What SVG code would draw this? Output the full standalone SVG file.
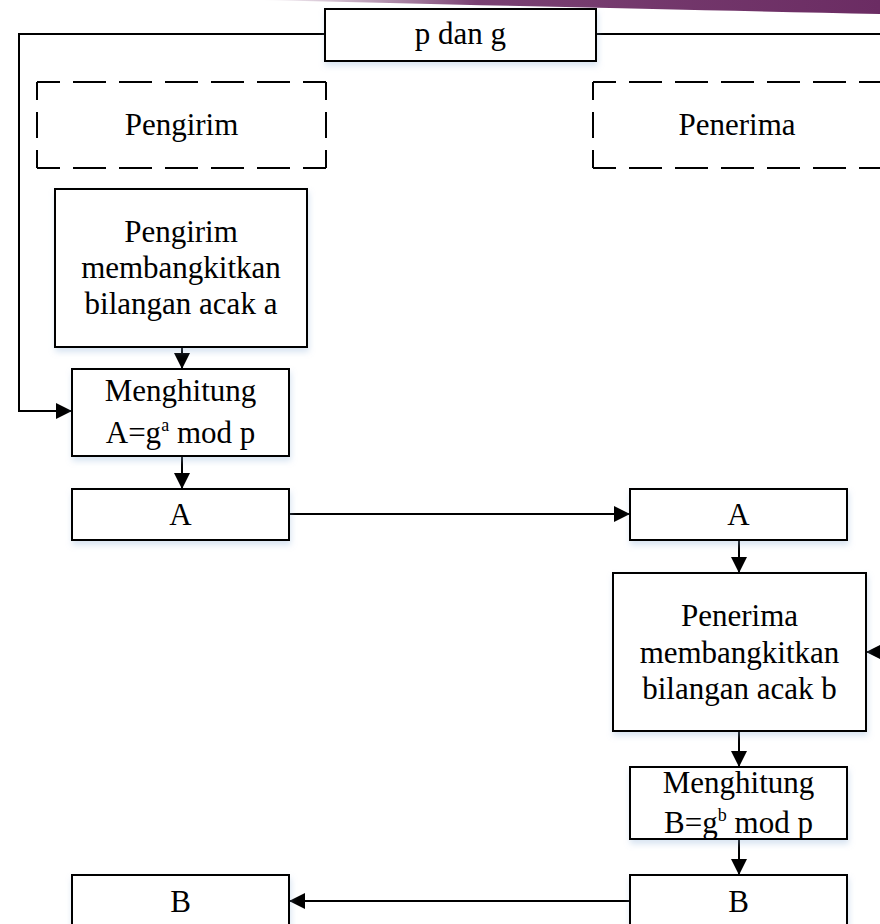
<svg xmlns="http://www.w3.org/2000/svg" width="880" height="924" viewBox="0 0 880 924">
<defs>
<linearGradient id="band" x1="260" y1="0" x2="880" y2="0" gradientUnits="userSpaceOnUse">
<stop offset="0" stop-color="#6b2c63" stop-opacity="0"/>
<stop offset="0.35" stop-color="#6b2c63" stop-opacity="0.9"/>
<stop offset="1" stop-color="#6b2c63"/>
</linearGradient>
<filter id="sh" x="-10%" y="-10%" width="120%" height="140%">
<feDropShadow dx="1" dy="4" stdDeviation="3" flood-color="#8fb0d8" flood-opacity="0.35"/>
</filter>
<marker id="arr" markerUnits="userSpaceOnUse" markerWidth="16" markerHeight="16" refX="16" refY="8" orient="auto">
<path d="M0,0 L16,8 L0,16 Z" fill="#000"/>
</marker>
</defs>
<style>
.box{fill:#fff;stroke:#000;stroke-width:2;filter:url(#sh)}
.dash{fill:none;stroke:#000;stroke-width:2}
.t{font-size:31px;fill:#000;text-anchor:middle}
.c{fill:none;stroke:#000;stroke-width:2}
</style>
<rect width="880" height="924" fill="#fff"/>
<path d="M260,0 L880,0 L880,14 Q640,9 260,0 Z" fill="url(#band)"/>

<g id="connectors">
<polyline class="c" points="325,34 19,34 19,411 72,411" marker-end="url(#arr)"/>
<line class="c" x1="596" y1="34" x2="882" y2="34"/>
<line class="c" x1="182" y1="347" x2="182" y2="369" marker-end="url(#arr)"/>
<line class="c" x1="182" y1="456" x2="182" y2="489" marker-end="url(#arr)"/>
<line class="c" x1="289" y1="514" x2="630" y2="514" marker-end="url(#arr)"/>
<line class="c" x1="739" y1="540" x2="739" y2="573" marker-end="url(#arr)"/>
<line class="c" x1="884" y1="652" x2="866" y2="652" marker-end="url(#arr)"/>
<line class="c" x1="739" y1="731" x2="739" y2="767" marker-end="url(#arr)"/>
<line class="c" x1="739" y1="839" x2="739" y2="875" marker-end="url(#arr)"/>
<line class="c" x1="630" y1="901" x2="289" y2="901" marker-end="url(#arr)"/>
</g>

<g font-family="Liberation Serif, Times New Roman, serif">
<g id="pdang">
<rect class="box" x="325" y="9" width="271" height="52"/>
<text class="t" x="460.5" y="44">p dan g</text>
</g>

<g id="pengirim-label">
<path class="dash" d="M37,82 H326" stroke-dasharray="23 13 33 13 33 13 33 13 33 13 33 13 23"/>
<path class="dash" d="M37,168 H326" stroke-dasharray="23 13 33 13 33 13 33 13 33 13 33 13 23"/>
<path class="dash" d="M37,82 V168" stroke-dasharray="18 12 26 12 18"/>
<path class="dash" d="M326,82 V168" stroke-dasharray="18 12 26 12 18"/>
<text class="t" x="181.5" y="135">Pengirim</text>
</g>

<g id="penerima-label">
<path class="dash" d="M593,82 H882" stroke-dasharray="23 13 33 13 33 13 33 13 33 13 33 13 23"/>
<path class="dash" d="M593,168 H882" stroke-dasharray="23 13 33 13 33 13 33 13 33 13 33 13 23"/>
<path class="dash" d="M593,82 V168" stroke-dasharray="18 12 26 12 18"/>
<text class="t" x="737" y="135">Penerima</text>
</g>

<g id="pengirim-gen">
<rect class="box" x="55" y="189" width="252" height="158"/>
<text class="t" x="181" y="242">Pengirim</text>
<text class="t" x="181" y="278">membangkitkan</text>
<text class="t" x="181" y="314">bilangan acak a</text>
</g>

<g id="hitung-a">
<rect class="box" x="72" y="369" width="217" height="87"/>
<text class="t" x="180.5" y="401">Menghitung</text>
<text class="t" x="180.5" y="443">A=g<tspan font-size="18" dy="-12">a</tspan><tspan dy="12"> mod p</tspan></text>
</g>

<g id="a-left">
<rect class="box" x="72" y="489" width="217" height="51"/>
<text class="t" x="180.5" y="525">A</text>
</g>

<g id="a-right">
<rect class="box" x="630" y="489" width="217" height="51"/>
<text class="t" x="738.5" y="525">A</text>
</g>

<g id="penerima-gen">
<rect class="box" x="613" y="573" width="253" height="158"/>
<text class="t" x="739.5" y="626">Penerima</text>
<text class="t" x="739.5" y="663">membangkitkan</text>
<text class="t" x="739.5" y="699">bilangan acak b</text>
</g>

<g id="hitung-b">
<rect class="box" x="630" y="767" width="217" height="72"/>
<text class="t" x="738.5" y="793">Menghitung</text>
<text class="t" x="738.5" y="833">B=g<tspan font-size="18" dy="-12">b</tspan><tspan dy="12"> mod p</tspan></text>
</g>

<g id="b-right">
<rect class="box" x="630" y="875" width="217" height="52"/>
<text class="t" x="738.5" y="912">B</text>
</g>

<g id="b-left">
<rect class="box" x="72" y="875" width="217" height="52"/>
<text class="t" x="180.5" y="912">B</text>
</g>
</g>
</svg>
